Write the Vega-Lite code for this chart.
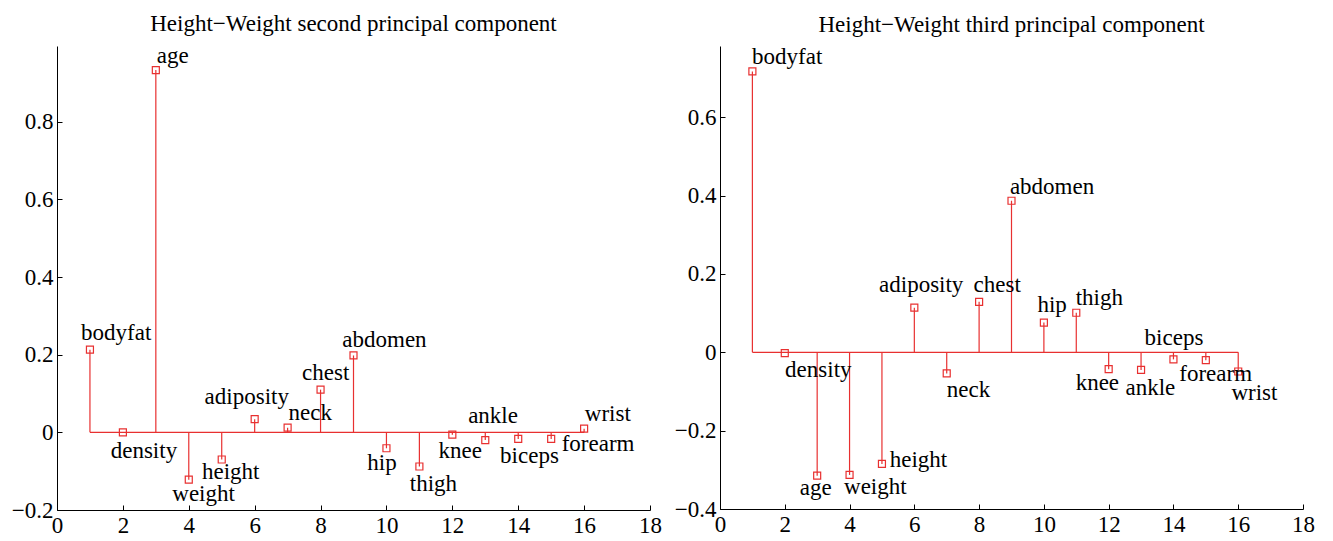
{
  "$schema": "https://vega.github.io/schema/vega-lite/v6.json",
  "background": "white",
  "padding": {"left": 11, "top": 13, "right": 5, "bottom": 5},
  "bounds": "flush",
  "spacing": 70,
  "datasets": {
    "pc2": [
      {"x": 1, "name": "bodyfat", "v": 0.213, "lx": 0.73, "ly": 0.256},
      {"x": 2, "name": "density", "v": 0.0, "lx": 1.63, "ly": -0.048},
      {"x": 3, "name": "age", "v": 0.933, "lx": 3.03, "ly": 0.968},
      {"x": 4, "name": "weight", "v": -0.122, "lx": 3.5, "ly": -0.158},
      {"x": 5, "name": "height", "v": -0.07, "lx": 4.4, "ly": -0.103},
      {"x": 6, "name": "adiposity", "v": 0.034, "lx": 4.48, "ly": 0.092},
      {"x": 7, "name": "neck", "v": 0.012, "lx": 7.03, "ly": 0.049},
      {"x": 8, "name": "chest", "v": 0.11, "lx": 7.44, "ly": 0.152},
      {"x": 9, "name": "abdomen", "v": 0.198, "lx": 8.66, "ly": 0.239},
      {"x": 10, "name": "hip", "v": -0.041, "lx": 9.42, "ly": -0.078},
      {"x": 11, "name": "thigh", "v": -0.088, "lx": 10.71, "ly": -0.132},
      {"x": 12, "name": "knee", "v": -0.006, "lx": 11.58, "ly": -0.048},
      {"x": 13, "name": "ankle", "v": -0.02, "lx": 12.48, "ly": 0.041},
      {"x": 14, "name": "biceps", "v": -0.017, "lx": 13.45, "ly": -0.06},
      {"x": 15, "name": "forearm", "v": -0.017, "lx": 15.32, "ly": -0.031},
      {"x": 16, "name": "wrist", "v": 0.0095, "lx": 16.02, "ly": 0.047}
    ],
    "pc3": [
      {"x": 1, "name": "bodyfat", "v": 0.717, "lx": 0.99, "ly": 0.753},
      {"x": 2, "name": "density", "v": -0.002, "lx": 2.01, "ly": -0.044},
      {"x": 3, "name": "age", "v": -0.315, "lx": 2.46, "ly": -0.346},
      {"x": 4, "name": "weight", "v": -0.313, "lx": 3.83, "ly": -0.344},
      {"x": 5, "name": "height", "v": -0.285, "lx": 5.24, "ly": -0.276},
      {"x": 6, "name": "adiposity", "v": 0.114, "lx": 4.91, "ly": 0.171},
      {"x": 7, "name": "neck", "v": -0.054, "lx": 7.0, "ly": -0.097},
      {"x": 8, "name": "chest", "v": 0.129, "lx": 7.83, "ly": 0.171},
      {"x": 9, "name": "abdomen", "v": 0.387, "lx": 8.95, "ly": 0.423},
      {"x": 10, "name": "hip", "v": 0.076, "lx": 9.8, "ly": 0.122},
      {"x": 11, "name": "thigh", "v": 0.101, "lx": 10.98, "ly": 0.139},
      {"x": 12, "name": "knee", "v": -0.043, "lx": 10.98, "ly": -0.079},
      {"x": 13, "name": "ankle", "v": -0.045, "lx": 12.52, "ly": -0.09},
      {"x": 14, "name": "biceps", "v": -0.018, "lx": 13.11, "ly": 0.036},
      {"x": 15, "name": "forearm", "v": -0.02, "lx": 14.18, "ly": -0.056},
      {"x": 16, "name": "wrist", "v": -0.049, "lx": 15.79, "ly": -0.103}
    ]
  },
  "hconcat": [
    {
      "width": 593,
      "height": 464,
      "title": {"text": "Height−Weight second principal component"},
      "data": {"name": "pc2"},
      "layer": [
        {
          "mark": {"type": "rule", "color": "#e83030", "strokeWidth": 1.2},
          "encoding": {
            "x": {"aggregate": "min", "field": "x", "type": "quantitative",
                  "scale": {"domain": [0, 18], "nice": false, "zero": false},
                  "axis": {"values": [0, 2, 4, 6, 8, 10, 12, 14, 16, 18], "format": "d"}},
            "x2": {"aggregate": "max", "field": "x"},
            "y": {"datum": 0, "type": "quantitative",
                  "scale": {"domain": [-0.2, 0.995], "nice": false, "zero": false},
                  "axis": {"values": [-0.2, 0, 0.2, 0.4, 0.6, 0.8], "format": ".1~f"}}
          }
        },
        {
          "mark": {"type": "rule", "color": "#e83030", "strokeWidth": 1.2},
          "encoding": {
            "x": {"field": "x", "type": "quantitative"},
            "y": {"field": "v", "type": "quantitative"},
            "y2": {"datum": 0}
          }
        },
        {
          "mark": {"type": "point", "shape": "square", "filled": false, "size": 49, "color": "#e83030", "strokeWidth": 1.2, "opacity": 1},
          "encoding": {
            "x": {"field": "x", "type": "quantitative"},
            "y": {"field": "v", "type": "quantitative"}
          }
        },
        {
          "mark": {"type": "text", "align": "left", "baseline": "middle", "font": "Liberation Serif", "fontSize": 23, "color": "black"},
          "encoding": {
            "x": {"field": "lx", "type": "quantitative"},
            "y": {"field": "ly", "type": "quantitative"},
            "text": {"field": "name"}
          }
        }
      ]
    },
    {
      "width": 583,
      "height": 463,
      "title": {"text": "Height−Weight third principal component"},
      "data": {"name": "pc3"},
      "layer": [
        {
          "mark": {"type": "rule", "color": "#e83030", "strokeWidth": 1.2},
          "encoding": {
            "x": {"aggregate": "min", "field": "x", "type": "quantitative",
                  "scale": {"domain": [0, 18], "nice": false, "zero": false},
                  "axis": {"values": [0, 2, 4, 6, 8, 10, 12, 14, 16, 18], "format": "d"}},
            "x2": {"aggregate": "max", "field": "x"},
            "y": {"datum": 0, "type": "quantitative",
                  "scale": {"domain": [-0.4, 0.782], "nice": false, "zero": false},
                  "axis": {"values": [-0.4, -0.2, 0, 0.2, 0.4, 0.6], "format": ".1~f"}}
          }
        },
        {
          "mark": {"type": "rule", "color": "#e83030", "strokeWidth": 1.2},
          "encoding": {
            "x": {"field": "x", "type": "quantitative"},
            "y": {"field": "v", "type": "quantitative"},
            "y2": {"datum": 0}
          }
        },
        {
          "mark": {"type": "point", "shape": "square", "filled": false, "size": 49, "color": "#e83030", "strokeWidth": 1.2, "opacity": 1},
          "encoding": {
            "x": {"field": "x", "type": "quantitative"},
            "y": {"field": "v", "type": "quantitative"}
          }
        },
        {
          "mark": {"type": "text", "align": "left", "baseline": "middle", "font": "Liberation Serif", "fontSize": 23, "color": "black"},
          "encoding": {
            "x": {"field": "lx", "type": "quantitative"},
            "y": {"field": "ly", "type": "quantitative"},
            "text": {"field": "name"}
          }
        }
      ]
    }
  ],
  "config": {
    "view": {"stroke": null},
    "font": "Liberation Serif",
    "title": {"font": "Liberation Serif", "fontSize": 23, "fontWeight": "normal", "color": "black", "anchor": "middle", "frame": "group", "baseline": "alphabetic", "offset": 9},
    "axis": {
      "grid": false,
      "title": null,
      "domainColor": "black",
      "domainWidth": 1,
      "tickColor": "black",
      "tickWidth": 1,
      "tickSize": -5,
      "labelPadding": 9,
      "labelColor": "black",
      "labelFont": "Liberation Serif",
      "labelFontSize": 23,
      "labelOverlap": false,
      "labelFlush": false
    }
  }
}
